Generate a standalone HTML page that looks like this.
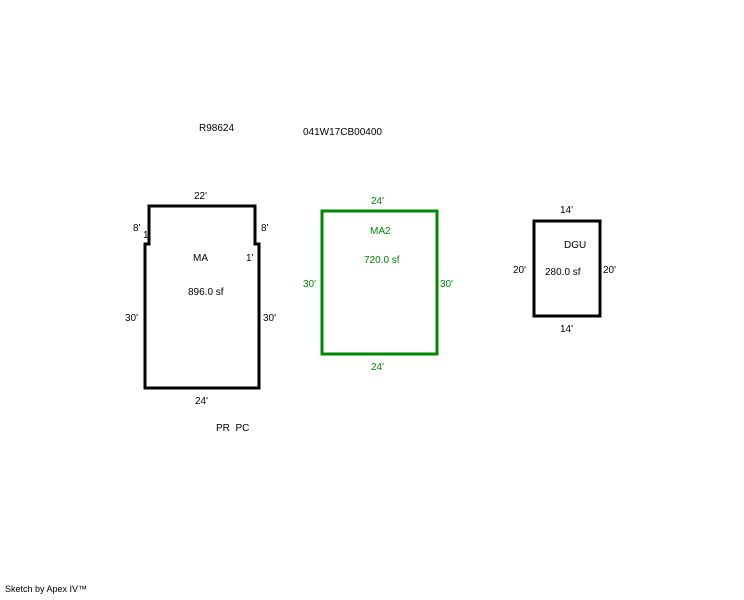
<!DOCTYPE html>
<html><head><style>
body{margin:0;background:#fff;}
svg text{font-family:"Liberation Sans",sans-serif;font-size:10px;}
</style></head><body>
<svg width="744" height="595" xmlns="http://www.w3.org/2000/svg">
<path d="M145,388 L145,244 L149,244 L149,206 L255,206 L255,244 L259,244 L259,388 Z" fill="none" stroke="#000" stroke-width="3"/>
<rect x="322" y="211" width="115" height="143" fill="none" stroke="#008800" stroke-width="3"/>
<rect x="534" y="221" width="66" height="95" fill="none" stroke="#000" stroke-width="3"/>
<g fill="#000">
<text x="199" y="131">R98624</text>
<text x="303" y="135">041W17CB00400</text>
<text x="194" y="199">22'</text>
<text x="133" y="231">8'</text>
<text x="143" y="238">1</text>
<text x="261" y="231">8'</text>
<text x="246" y="261">1'</text>
<text x="193" y="261">MA</text>
<text x="188" y="295">896.0 sf</text>
<text x="125" y="321">30'</text>
<text x="263" y="321">30'</text>
<text x="195" y="404">24'</text>
<text x="216" y="431">PR&#160;&#160;PC</text>
<text x="560" y="213">14'</text>
<text x="564" y="248">DGU</text>
<text x="545" y="275">280.0 sf</text>
<text x="513" y="273">20'</text>
<text x="603" y="273">20'</text>
<text x="560" y="332">14'</text>
<text x="5" y="592" style="font-size:9px">Sketch by Apex IV™</text>
</g>
<g fill="#008800">
<text x="371" y="204">24'</text>
<text x="370" y="234">MA2</text>
<text x="364" y="263">720.0 sf</text>
<text x="303" y="287">30'</text>
<text x="440" y="287">30'</text>
<text x="371" y="370">24'</text>
</g>
</svg>
</body></html>
